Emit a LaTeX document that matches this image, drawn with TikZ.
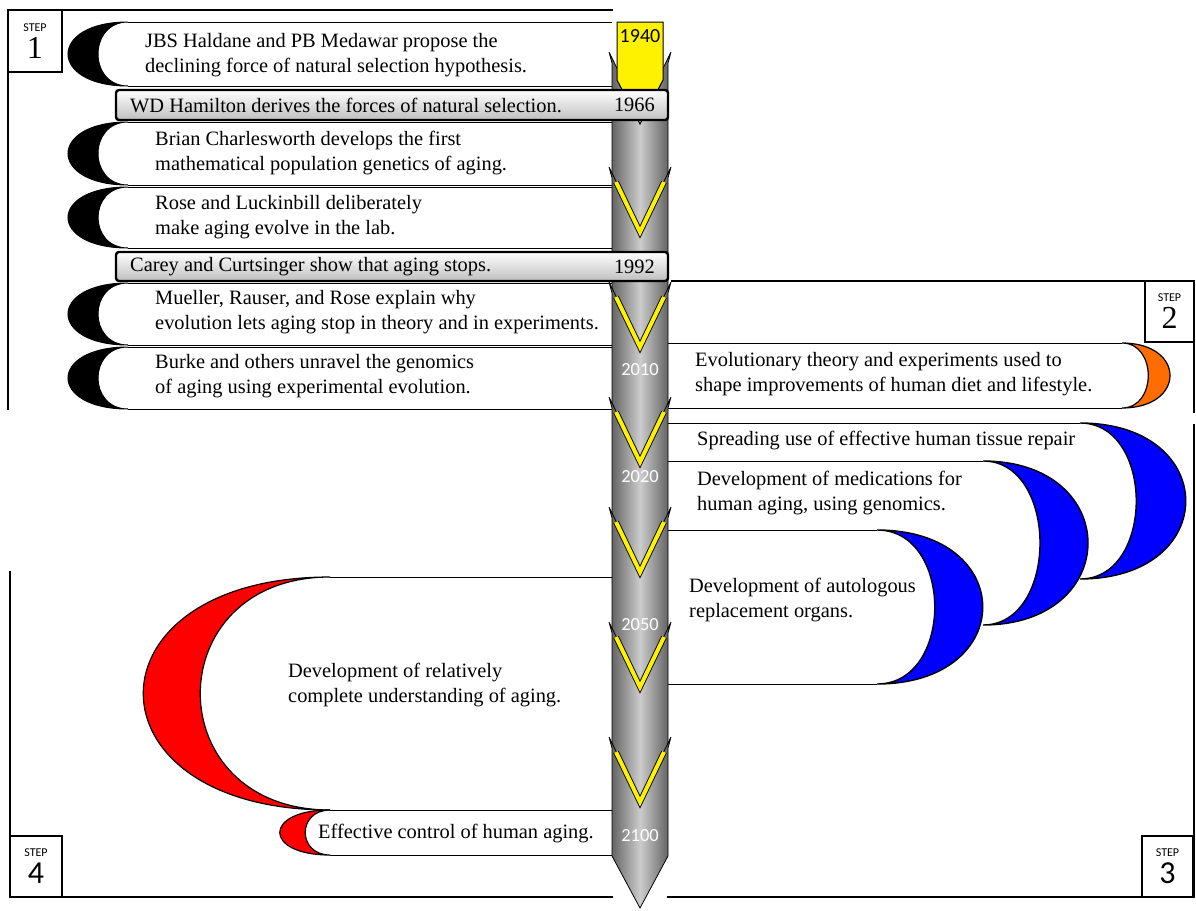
\documentclass[tikz,border=0pt]{standalone}
\usepackage{xcolor}
\usepackage{fontspec}
\setmainfont{Liberation Serif}
\newfontfamily\calibrifont{Carlito}
\usepackage{tikz}
\usetikzlibrary{positioning, calc}

\begin{document}
\begin{tikzpicture}[x=1pt, y=-1pt]
% style: Frame_style
\tikzstyle{Frame_style}=[line width=2.2pt,line cap=rect]
% style: Row_style
\tikzstyle{Row_style}=[line width=1pt]
% style: Step_style
\tikzstyle{Step_style}=[draw,line width=2.2pt,fill=white,align=center,inner sep=0pt,minimum width=52pt,minimum height=61pt,font=\fontsize{32}{27}\selectfont]
% style: Entry_style
\tikzstyle{Entry_style}=[anchor=west,align=left,inner sep=0pt,font=\fontsize{20.4}{25}\selectfont]
% style: Bar_style
\tikzstyle{Bar_style}=[draw,line width=2.4pt,rounded corners=3pt,top color=white,bottom color=gray!50,minimum width=552pt,minimum height=30pt,inner sep=0pt]
% style: Year_style
\tikzstyle{Year_style}=[text=white,inner sep=0pt,font=\calibrifont\fontsize{18.5}{18.5}\selectfont]
% style: Shaft_style
\tikzstyle{Shaft_style}=[draw=black,line width=0.8pt,left color=gray!70!black,right color=gray!70!black,middle color=gray!40]
% style: YellowV_style
\tikzstyle{YellowV_style}=[draw=black,double=yellow,double distance=4pt,line width=0.9pt]
% style: BlackMoon_style
\tikzstyle{BlackMoon_style}=[draw=black,line width=1pt,fill=black]
% style: BlueMoon_style
\tikzstyle{BlueMoon_style}=[draw=black,line width=1.4pt,fill=blue]
% style: RedMoon_style
\tikzstyle{RedMoon_style}=[draw=black,line width=1.2pt,fill=red]
% style: OrangeMoon_style
\tikzstyle{OrangeMoon_style}=[draw=black,line width=1.2pt,fill=orange!85!red]

\useasboundingbox (0,0) rectangle (1196,910);

% frames of the four steps
\draw[Frame_style] (8,10) -- (612,10);
\draw[Frame_style] (8,10) -- (8,409);
\draw[Frame_style] (672,281) -- (1194,281) -- (1194,412);
\draw[Frame_style] (1194,425) -- (1194,897) -- (668,897);
\draw[Frame_style] (10,572) -- (10,897) -- (612,897);

% node group: step1_group
% row: haldane_medawar
\draw[Row_style] (128,22) -- (612,22) (128,86) -- (612,86);
\draw[BlackMoon_style] (128,22) .. controls (48,22) and (48,86) .. (128,86) .. controls (88,86) and (88,22) .. cycle;
% row: charlesworth
\draw[Row_style] (128,122) -- (612,122) (128,185) -- (612,185);
\draw[BlackMoon_style] (128,122) .. controls (48,122) and (48,185) .. (128,185) .. controls (88,185) and (88,122) .. cycle;
% row: rose_luckinbill
\draw[Row_style] (128,187) -- (612,187) (128,248) -- (612,248);
\draw[BlackMoon_style] (128,187) .. controls (48,187) and (48,248) .. (128,248) .. controls (88,248) and (88,187) .. cycle;
% row: mueller_rauser_rose
\draw[Row_style] (128,283) -- (612,283) (128,345) -- (612,345);
\draw[BlackMoon_style] (128,283) .. controls (48,283) and (48,345) .. (128,345) .. controls (88,345) and (88,283) .. cycle;
% row: burke
\draw[Row_style] (128,347) -- (612,347) (128,409) -- (612,409);
\draw[BlackMoon_style] (128,347) .. controls (48,347) and (48,409) .. (128,409) .. controls (88,409) and (88,347) .. cycle;
% end of node group: step1_group

% node group: step2_group
% row: diet_lifestyle
\draw[Row_style] (668,343) -- (1122,343) (668,408) -- (1122,408);
\draw[OrangeMoon_style] (1122,343) .. controls (1186,343) and (1186,408) .. (1122,408) .. controls (1157,408) and (1157,343) .. cycle;
% end of node group: step2_group

% node group: step3_group
% row: tissue_repair
\draw[Row_style] (668,423) -- (1080,423);
\draw[BlueMoon_style] (1080,423) .. controls (1221,423) and (1221,579) .. (1080,579) .. controls (1155,579) and (1155,423) .. cycle;
% row: medications
\draw[Row_style] (668,461) -- (983,461);
\draw[BlueMoon_style] (983,461) .. controls (1123,461) and (1123,625) .. (983,625) .. controls (1059,625) and (1059,461) .. cycle;
% row: autologous_organs
\draw[Row_style] (668,530) -- (877,530) (668,684) -- (877,684);
\draw[BlueMoon_style] (877,530) .. controls (1018,530) and (1018,684) .. (877,684) .. controls (954,684) and (954,530) .. cycle;
% end of node group: step3_group

% node group: step4_group
% row: understanding
\draw[Row_style] (330,577) -- (612,577) (330,810) -- (612,810);
\draw[RedMoon_style] (330,577) .. controls (81,577) and (81,810) .. (330,810) .. controls (157,810) and (157,577) .. cycle;
% row: control
\draw[Row_style] (330,855) -- (612,855);
\draw[RedMoon_style] (330,810) .. controls (263,810) and (263,855) .. (330,855) .. controls (297,855) and (297,810) .. cycle;
% end of node group: step4_group

% node group: shaft_group
\draw[Shaft_style] (609,52) -- (640,115) -- (671,52) -- (668,63) -- (668,175) -- (640,230) -- (612,175) -- (612,63) -- cycle;
\draw[Shaft_style] (609,167) -- (640,230) -- (671,167) -- (668,178) -- (668,290) -- (640,345) -- (612,290) -- (612,178) -- cycle;
\draw[Shaft_style] (609,282) -- (640,345) -- (671,282) -- (668,293) -- (668,405) -- (640,460) -- (612,405) -- (612,293) -- cycle;
\draw[Shaft_style] (609,397) -- (640,460) -- (671,397) -- (668,408) -- (668,515) -- (640,570) -- (612,515) -- (612,408) -- cycle;
\draw[Shaft_style] (609,507) -- (640,570) -- (671,507) -- (668,518) -- (668,630) -- (640,685) -- (612,630) -- (612,518) -- cycle;
\draw[Shaft_style] (609,622) -- (640,685) -- (671,622) -- (668,633) -- (668,745) -- (640,800) -- (612,745) -- (612,633) -- cycle;
\draw[Shaft_style] (609,737) -- (640,800) -- (671,737) -- (668,748) -- (668,856) -- (640,908) -- (612,856) -- (612,748) -- cycle;
\draw[YellowV_style] (616,182) -- (640,232) -- (664,182);
\draw[YellowV_style] (616,297) -- (640,347) -- (664,297);
\draw[YellowV_style] (616,412) -- (640,462) -- (664,412);
\draw[YellowV_style] (616,522) -- (640,572) -- (664,522);
\draw[YellowV_style] (616,637) -- (640,687) -- (664,637);
\draw[YellowV_style] (616,752) -- (640,802) -- (664,752);
\draw[fill=yellow,line width=1pt] (617,22) -- (663,22) -- (663,80) -- (640,124) -- (617,80) -- cycle;
% end of node group: shaft_group

% node: year_1940
\node[Year_style, text=black, font=\calibrifont\fontsize{20}{20}\selectfont] (year_1940) at (640,36) {1940};
% node: year_2010
\node[Year_style] (year_2010) at (640,370) {2010};
% node: year_2020
\node[Year_style] (year_2020) at (640,477) {2020};
% node: year_2050
\node[Year_style] (year_2050) at (640,625) {2050};
% node: year_2100
\node[Year_style] (year_2100) at (640,836) {2100};

% node: hamilton_bar
\node[Bar_style] (hamilton_bar) at (392,105) {};
\node[Entry_style] (hamilton) at (130,105) {WD Hamilton derives the forces of natural selection.};
\node[Entry_style, anchor=east] (year_1966) at (655,105) {1966};
% node: carey_bar
\node[Bar_style, minimum height=29pt] (carey_bar) at (392,266.5) {};
\node[Entry_style] (carey_curtsinger) at (130,266.5) {Carey and Curtsinger show that aging stops.};
\node[Entry_style, anchor=east] (year_1992) at (655,266.5) {1992};

% node: haldane_medawar
\node[Entry_style] (haldane_medawar) at (145,55.5) {JBS Haldane and PB Medawar propose the\\declining force of natural selection hypothesis.};
% node: charlesworth
\node[Entry_style] (charlesworth) at (155,153) {Brian Charlesworth develops the first\\mathematical population genetics of aging.};
% node: rose_luckinbill
\node[Entry_style] (rose_luckinbill) at (155,217) {Rose and Luckinbill deliberately\\make aging evolve in the lab.};
% node: mueller_rauser_rose
\node[Entry_style] (mueller_rauser_rose) at (155,312.5) {Mueller, Rauser, and Rose explain why\\evolution lets aging stop in theory and in experiments.};
% node: burke
\node[Entry_style] (burke) at (155,376) {Burke and others unravel the genomics\\of aging using experimental evolution.};
% node: diet_lifestyle
\node[Entry_style] (diet_lifestyle) at (695,374.5) {Evolutionary theory and experiments used to\\shape improvements of human diet and lifestyle.};
% node: tissue_repair
\node[Entry_style] (tissue_repair) at (697,441) {Spreading use of effective human tissue repair};
% node: medications
\node[Entry_style] (medications) at (697,493.5) {Development of medications for\\human aging, using genomics.};
% node: autologous_organs
\node[Entry_style] (autologous_organs) at (689,600) {Development of autologous\\replacement organs.};
% node: understanding
\node[Entry_style] (understanding) at (288,685) {Development of relatively\\complete understanding of aging.};
% node: control
\node[Entry_style] (control) at (318,834) {Effective control of human aging.};

% node: step_1
\node[Step_style, minimum width=54pt, minimum height=62pt] (step_1) at (35,41) {{\calibrifont\fontsize{12}{12}\selectfont STEP}\\1};
% node: step_2
\node[Step_style, minimum width=49pt] (step_2) at (1169.5,311.5) {{\calibrifont\fontsize{12}{12}\selectfont STEP}\\2};
% node: step_3
\node[Step_style, minimum width=51pt] (step_3) at (1167.5,866.5) {{\calibrifont\fontsize{12}{12}\selectfont STEP}\\{\calibrifont 3}};
% node: step_4
\node[Step_style] (step_4) at (36,866.5) {{\calibrifont\fontsize{12}{12}\selectfont STEP}\\{\calibrifont 4}};

\end{tikzpicture}
\end{document}
